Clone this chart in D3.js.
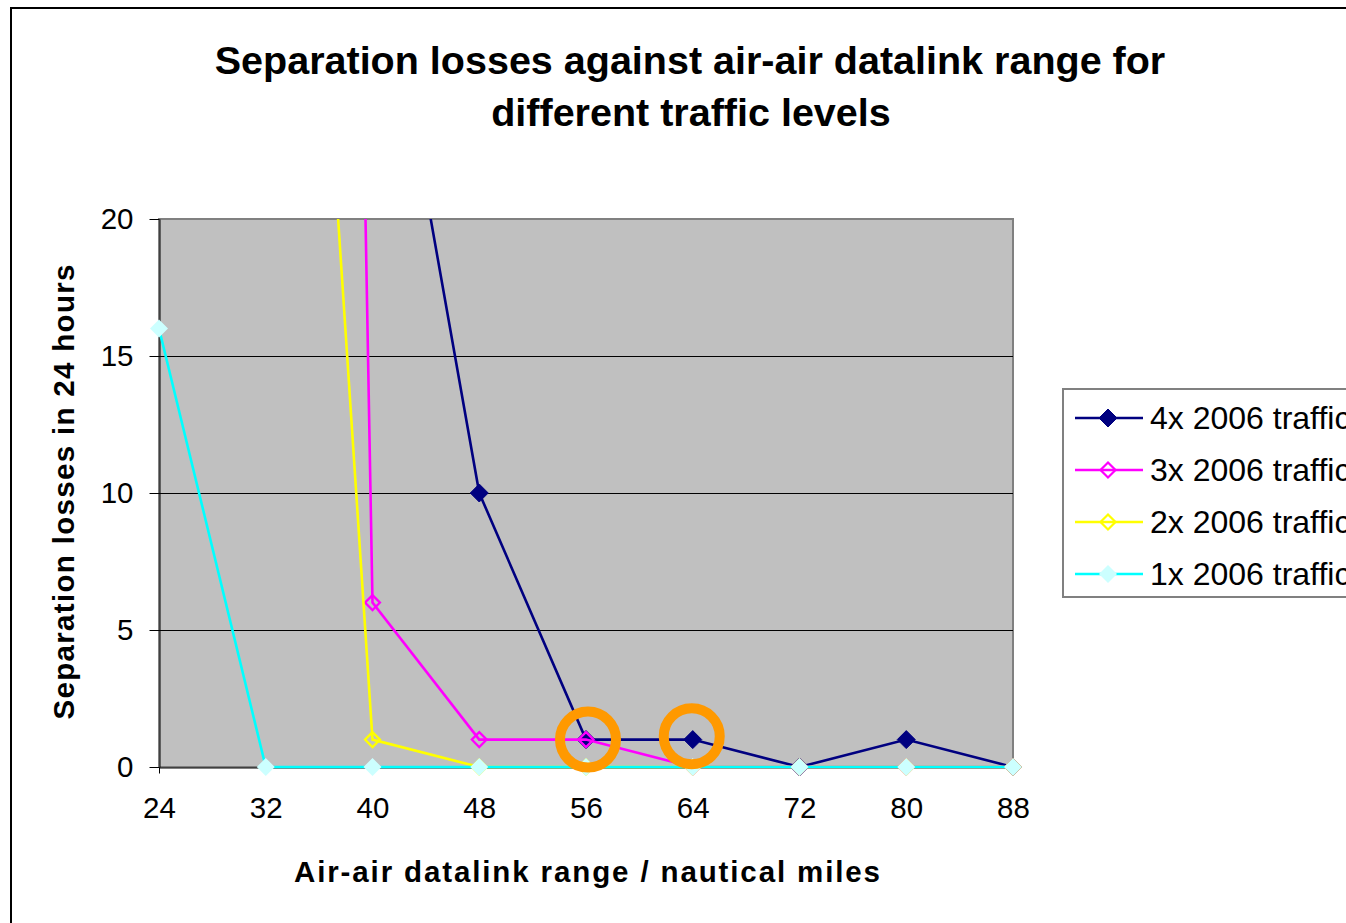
<!DOCTYPE html>
<html>
<head>
<meta charset="utf-8">
<script src="https://cdn.jsdelivr.net/npm/d3@7"></script>
<style>
body{margin:0;background:#fff;overflow:hidden;}
text{font-family:"Liberation Sans",Arial,sans-serif;fill:#000;}
</style>
</head>
<body>
<script>
// air-air datalink range (nautical miles)
var ranges=[24,32,40,48,56,64,72,80,88];
// separation losses in 24 hours, per traffic level (values above 20 run off the chart)
var traffic4x=[null,null,32,10,1,1,0,1,0];
var traffic3x=[null,220,6,1,1,0,0,0,0];
var traffic2x=[null,60,1,0,0,0,0,0,0];
var traffic1x=[16,0,0,0,0,0,0,0,0];
var seriesNames=["4x 2006 traffic","3x 2006 traffic","2x 2006 traffic","1x 2006 traffic"];
var yTicks=[0,5,10,15,20];
// highlighted points (range, losses)
var circled=[[56,1],[64,1.12]];

var W=1346,H=923;
var pLeft=159,pRight=1013,pTop=219,pBottom=767;

var svg=d3.select("body").append("svg")
	.attr("width",W).attr("height",H);

svg.append("rect").attr("width",W).attr("height",H).attr("fill","#fff");
// chart border (runs off the right and bottom)
svg.append("rect")
	.attr("x",11).attr("y",8).attr("width",W+20).attr("height",H+20)
	.attr("fill","none").attr("stroke","#000").attr("stroke-width",2);

var x=d3.scaleLinear().domain([24,88]).range([pLeft,pRight]);
var y=d3.scaleLinear().domain([0,20]).range([pBottom,pTop]);

// plot area
svg.append("rect")
	.attr("x",pLeft).attr("y",pTop).attr("width",pRight-pLeft).attr("height",pBottom-pTop)
	.attr("fill","#C0C0C0").attr("stroke","#808080").attr("stroke-width",2);

// gridlines
svg.selectAll(".grid").data([5,10,15]).enter().append("line")
	.attr("x1",pLeft).attr("x2",pRight)
	.attr("y1",function(d){return y(d)+0.5;}).attr("y2",function(d){return y(d)+0.5;})
	.attr("stroke","#000").attr("stroke-width",1);

// y axis
var yAxis=d3.axisLeft(y).tickValues(yTicks).tickSize(10).tickPadding(16).tickSizeOuter(0);
var gy=svg.append("g").attr("transform","translate("+(pLeft+0.5)+",0)").call(yAxis);
gy.select(".domain").attr("stroke","#000").attr("stroke-width",1);
gy.selectAll(".tick line").attr("stroke","#000");
gy.selectAll("text").style("font-size","29.5px").attr("fill","#000").style("font-family","Liberation Sans, Arial");

// x axis
var xAxis=d3.axisBottom(x).tickValues(ranges).tickSize(6).tickPadding(24).tickSizeOuter(0);
var gx=svg.append("g").attr("transform","translate(0,"+(pBottom+0.5)+")").call(xAxis);
gx.select(".domain").attr("stroke","#000").attr("stroke-width",1);
gx.selectAll(".tick line").attr("stroke","#000");
gx.selectAll("text").style("font-size","29.5px").attr("fill","#000").style("font-family","Liberation Sans, Arial");

// series
var series=[
	{name:seriesNames[0],values:traffic4x,color:"#000080",fill:"#000080",hollow:false},
	{name:seriesNames[1],values:traffic3x,color:"#FF00FF",fill:"none",hollow:true},
	{name:seriesNames[2],values:traffic2x,color:"#FFFF00",fill:"none",hollow:true},
	{name:seriesNames[3],values:traffic1x,color:"#00FFFF",fill:"#CCFFFF",hollow:false,noStroke:true}
];

svg.append("clipPath").attr("id","plotclip").append("rect")
	.attr("x",pLeft).attr("y",pTop).attr("width",pRight-pLeft).attr("height",pBottom-pTop+3);

var line=d3.line()
	.defined(function(d){return d.v!=null;})
	.x(function(d){return x(d.r);})
	.y(function(d){return y(d.v);});

function diamondPath(s){
	return "M0,"+(-s)+"L"+s+",0L0,"+s+"L"+(-s)+",0Z";
}

series.forEach(function(s){
	var pts=ranges.map(function(r,i){return {r:r,v:s.values[i]};});
	svg.append("path")
		.datum(pts)
		.attr("clip-path","url(#plotclip)")
		.attr("d",line)
		.attr("fill","none")
		.attr("stroke",s.color)
		.attr("stroke-width",2.6);
	svg.selectAll(null)
		.data(pts.filter(function(d){return d.v!=null && d.v<=20;}))
		.enter().append("path")
		.attr("transform",function(d){return "translate("+x(d.r)+","+y(d.v)+")";})
		.attr("d",s.hollow?diamondPath(7.5):diamondPath(9))
		.attr("fill",s.fill)
		.attr("stroke",s.noStroke?"none":s.color)
		.attr("stroke-width",s.hollow?2.2:1);
});

// highlight circles
svg.selectAll(".ring").data(circled).enter().append("circle")
	.attr("cx",function(d,i){return x(d[0])+(i==0?2:-1);})
	.attr("cy",function(d){return y(d[1]);})
	.attr("r",28)
	.attr("fill","none")
	.attr("stroke","#FF9900")
	.attr("stroke-width",10);

// titles
var title=svg.append("text")
	.attr("text-anchor","middle")
	.style("font-size","39.5px").style("font-weight","bold");
title.append("tspan").attr("x",690).attr("y",74).text("Separation losses against air-air datalink range for");
title.append("tspan").attr("x",691).attr("y",126).text("different traffic levels");

svg.append("text")
	.attr("x",587).attr("y",882)
	.attr("text-anchor","middle")
	.attr("textLength",586).attr("lengthAdjust","spacing")
	.style("font-size","29.5px").style("font-weight","bold")
	.text("Air-air datalink range / nautical miles");

svg.append("text")
	.attr("transform","translate(74,492) rotate(-90)")
	.attr("text-anchor","middle")
	.attr("textLength",455).attr("lengthAdjust","spacing")
	.style("font-size","29.5px").style("font-weight","bold")
	.text("Separation losses in 24 hours");

// legend (runs off the right edge, as in the original)
var lg=svg.append("g").attr("transform","translate(1063,389)");
lg.append("rect").attr("width",320).attr("height",208)
	.attr("fill","#fff").attr("stroke","#808080").attr("stroke-width",2);
series.forEach(function(s,i){
	var cy=29+i*52;
	var g=lg.append("g").attr("transform","translate(0,"+cy+")");
	g.append("line").attr("x1",12).attr("x2",80).attr("y1",0).attr("y2",0)
		.attr("stroke",s.color).attr("stroke-width",2.6);
	g.append("path").attr("transform","translate(45,0)")
		.attr("d",s.hollow?diamondPath(7.5):diamondPath(9))
		.attr("fill",s.fill)
		.attr("stroke",s.noStroke?"none":s.color)
		.attr("stroke-width",s.hollow?2.2:1);
	g.append("text").attr("x",87).attr("y",11)
		.style("font-size","32px").text(s.name);
});
</script>
</body>
</html>
